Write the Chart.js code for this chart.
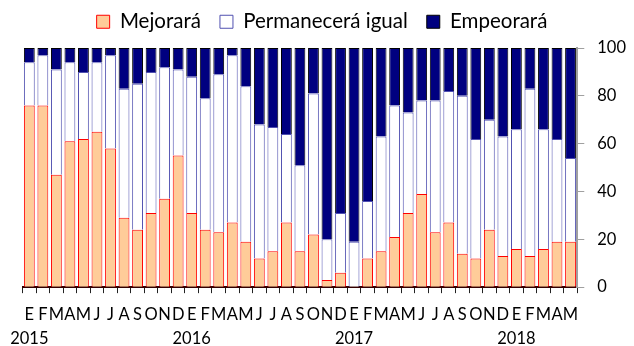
<!DOCTYPE html>
<html>
<head>
<meta charset="utf-8">
<script src="https://cdn.jsdelivr.net/npm/chart.js@4.4.1/dist/chart.umd.min.js"></script>
<style>
  html, body { margin: 0; padding: 0; background: #fff; }
  #wrap { width: 634px; height: 346px; }
</style>
</head>
<body>
<div id="wrap"><canvas id="c" width="634" height="346"></canvas></div>
<script>
// monthly survey, Jan 2015 - May 2018 (% of answers)
const months = ['E','F','M','A','M','J','J','A','S','O','N','D'];
const years = ['2015', '2016', '2017', '2018'];
const yTicks = [0, 20, 40, 60, 80, 100];

const mejorara = [76, 76, 47, 61, 62, 65, 58, 29, 24, 31, 37, 55,
                  31, 24, 23, 27, 19, 12, 15, 27, 15, 22, 3, 6,
                  0, 12, 15, 21, 31, 39, 23, 27, 14, 12, 24, 13,
                  16, 13, 16, 19, 19];
const permanecera = [18, 21, 44, 33, 28, 29, 39, 54, 61, 59, 55, 36,
                     57, 55, 66, 70, 65, 56, 52, 37, 36, 59, 17, 25,
                     19, 24, 48, 55, 42, 39, 55, 55, 66, 50, 46, 50,
                     50, 70, 50, 43, 35];
const empeorara = [6, 3, 9, 6, 10, 6, 3, 17, 15, 10, 8, 9,
                   12, 21, 11, 3, 16, 32, 33, 36, 49, 19, 80, 69,
                   81, 64, 37, 24, 27, 22, 22, 18, 20, 38, 30, 37,
                   34, 17, 34, 38, 46];

// labels: month letter, year under each January
let labels = [];
for (let i = 0; i < mejorara.length; i++) {
    let m = months[i % 12];
    if (i % 12 === 0) labels.push([m, years[i / 12]]);
    else labels.push([m, '']);
}

Chart.defaults.font.family = 'Lato, "Open Sans", sans-serif';
Chart.defaults.color = '#000';

const data = {
    labels: labels,
    datasets: [{
        label: 'Mejorará',
        data: mejorara,
        backgroundColor: '#FFCC99',
        borderColor: '#FF0000',
        borderWidth: 1
    }, {
        label: 'Permanecerá igual',
        data: permanecera,
        backgroundColor: '#FFFFFF',
        borderColor: '#5050B0',
        borderWidth: 1
    }, {
        label: 'Empeorará',
        data: empeorara,
        backgroundColor: '#000080',
        borderColor: '#000000',
        borderWidth: 1
    }]
};

// nudge the legend up and left after layout
const legendShift = {
    id: 'legendShift',
    afterLayout(chart) {
        let lg = chart.legend;
        lg.top -= 6; lg.bottom -= 6;
        lg.left -= 5; lg.right -= 5;
    }
};

const config = {
    type: 'bar',
    data,
    plugins: [legendShift],
    options: {
        responsive: false,
        animation: false,
        layout: { padding: { left: 15, right: -5, top: -5, bottom: -15 } },
        datasets: { bar: { categoryPercentage: 1, barPercentage: 0.8 } },
        plugins: {
            legend: {
                position: 'top',
                labels: {
                    boxWidth: 13,
                    boxHeight: 13,
                    padding: 19,
                    font: { size: 20.5 }
                }
            },
            tooltip: { enabled: false }
        },
        scales: {
            x: {
                stacked: true,
                grid: {
                    offset: true,
                    drawOnChartArea: false,
                    drawTicks: true,
                    tickLength: 6,
                    color: '#222'
                },
                border: { color: '#330000', width: 2 },
                ticks: {
                    autoSkip: false,
                    maxRotation: 0,
                    padding: 10,
                    font: { size: 16.5, lineHeight: 1.45 }
                }
            },
            y: {
                stacked: true,
                position: 'right',
                min: 0,
                max: 100,
                afterBuildTicks: (axis) => { axis.ticks = yTicks.map(v => ({ value: v })); },
                // leave room between legend and plot top
                afterFit: (axis) => { axis.paddingTop = 48; },
                grid: {
                    drawOnChartArea: false,
                    tickLength: 7,
                    color: '#A0A0A0'
                },
                border: { color: '#A0A0A0', width: 2 },
                ticks: { font: { size: 16.5 }, padding: 13 }
            }
        }
    }
};

let myChart = new Chart(document.getElementById('c'), config);
</script>
</body>
</html>
